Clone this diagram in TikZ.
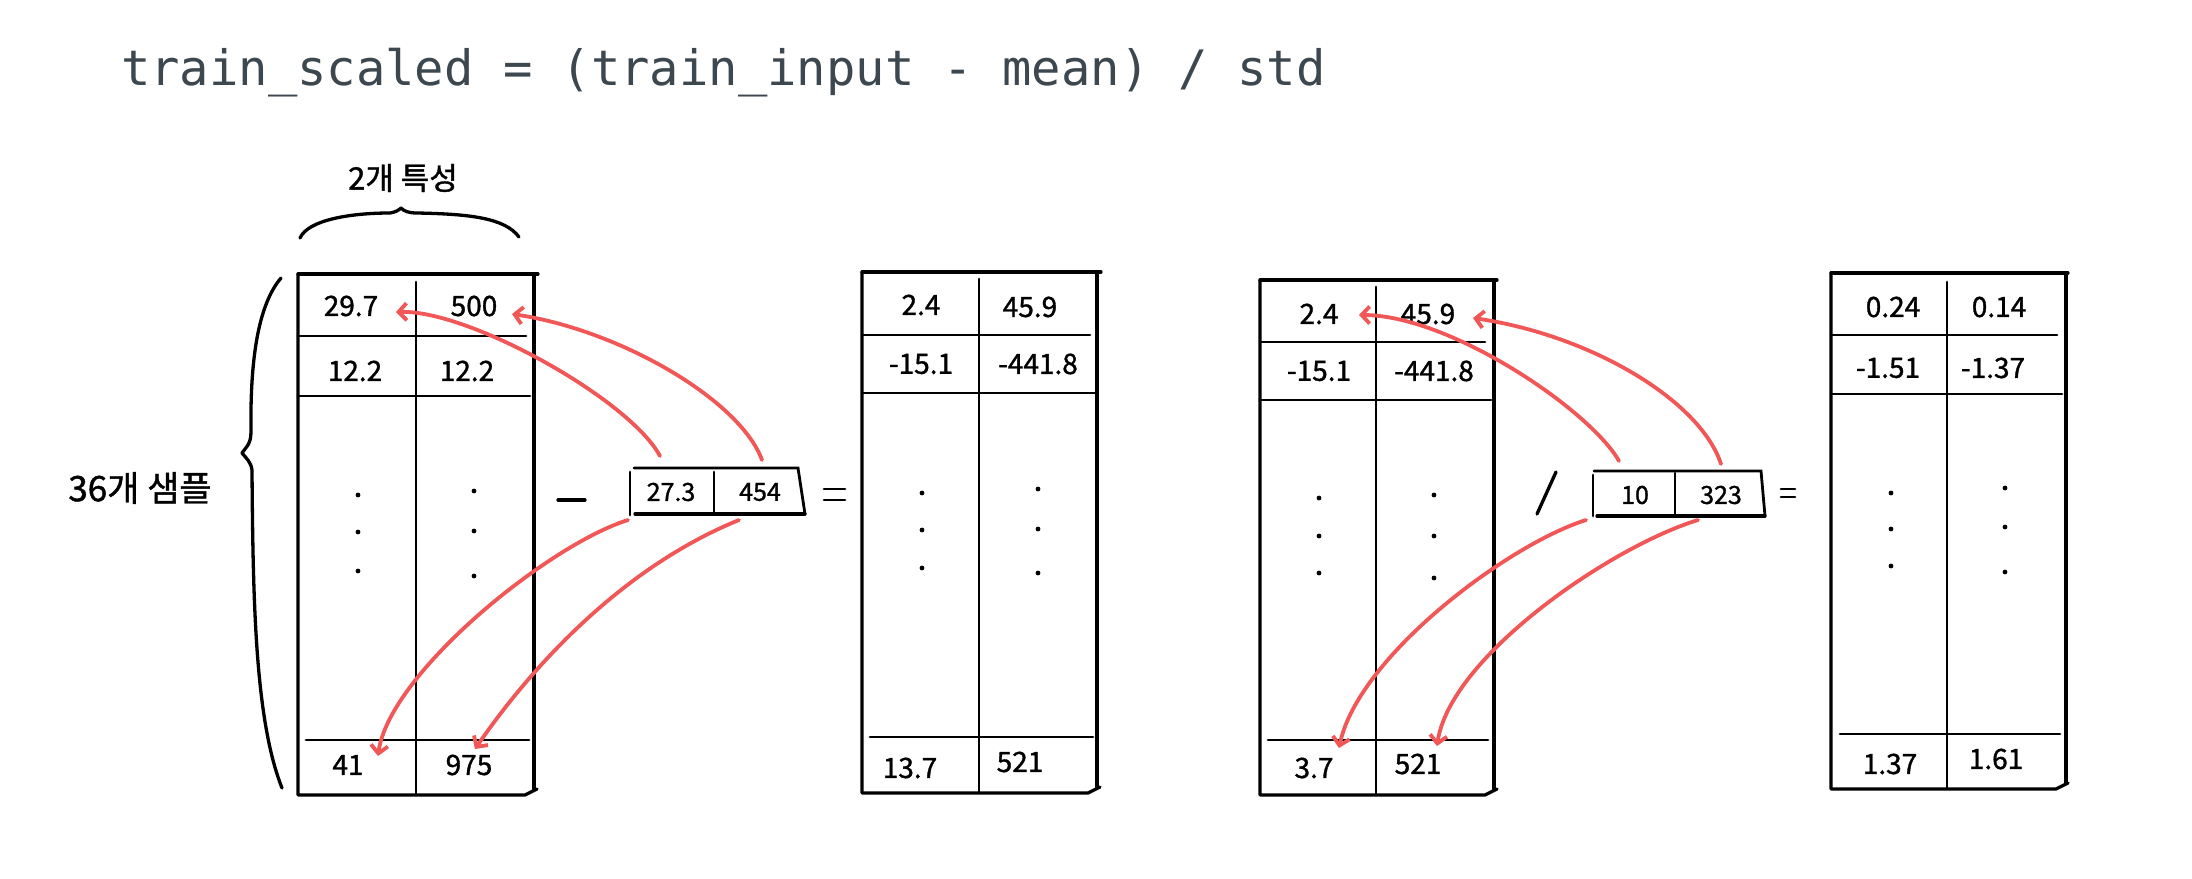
\documentclass[tikz,border=0pt]{standalone}
\usepackage{fontspec}
\newfontfamily\hand[FakeBold=1.2]{Noto Sans CJK KR}
\newfontfamily\codefont{DejaVu Sans Mono}
\usetikzlibrary{arrows.meta}
\definecolor{titlegray}{HTML}{3C474F}
\definecolor{penred}{HTML}{F25757}
\begin{document}
\begin{tikzpicture}[x=1pt,y=-1pt,
  pen/.style={line width=3.3pt, line cap=round, line join=round},
  inner/.style={line width=2.8pt, line cap=round},
  val/.style={font=\hand\fontsize{28}{30}\selectfont, inner sep=0pt},
  valsm/.style={font=\hand\fontsize{25}{27}\selectfont, inner sep=0pt},
  label/.style={font=\hand\fontsize{#1}{#1}\selectfont, inner sep=0pt},
  redarrow/.style={draw=penred, line width=3.8pt, line cap=round,
    -{Straight Barb[length=8pt,width=17pt,line width=3.8pt]}}]
\fill[white] (0,0) rectangle (2192,878);
\useasboundingbox (0,0) rectangle (2192,878);

% title
\node[anchor=base west, inner sep=0pt, text=titlegray,
  font=\codefont\fontsize{48.8}{50}\selectfont] (title) at (121,85)
  {train\_scaled = (train\_input - mean) / std};

% labels and braces
\node[label=31] (feat) at (403,178) {2개 특성};
\node[label=35] (samp) at (140,488) {36개 샘플};
\draw[pen] (300,238) .. controls (308,220) and (350,213) .. (390,213)
  .. controls (396,212) and (399,210) .. (401,208)
  .. controls (404,211) and (408,213) .. (417,213)
  .. controls (470,214) and (505,218) .. (519,237);
\draw[pen] (281,278) .. controls (258,305) and (250,360) .. (251,432)
  .. controls (251,445) and (245,448) .. (242,453)
  .. controls (246,458) and (251,462) .. (252,470)
  .. controls (253,600) and (255,720) .. (282,788);

% ---------- table 1 ----------
\draw[pen] (298,274) -- (538,274);
\draw[pen] (298,274) -- (298,795) -- (525,795) -- (537,789);
\draw[pen] (534,274) -- (534,789);
\draw[inner] (416,282) -- (416,795);
\draw[inner] (298,336) -- (526,336);
\draw[inner] (298,396) -- (530,396);
\draw[inner] (306,740) -- (529,740);
\node[val] (a11) at (351,306) {29.7};
\node[val] (a12) at (474,306) {500};
\node[val] (a21) at (355,371) {12.2};
\node[val] (a22) at (467,371) {12.2};
\node[val] (an1) at (348,765) {41};
\node[val] (an2) at (469,765) {975};
\foreach \x/\y in {358/495,358/532,358/571,474/491,474/531,474/576}
  \fill (\x,\y) circle (2.4pt);

% minus
\draw[pen] (558,500) -- (585,500);

% ---------- mean box ----------
\draw[inner] (630,472) -- (630,515);
\draw[inner] (634,468) -- (798,468) -- (805,514);
\draw[pen] (635,514) -- (805,514);
\draw[inner] (714,472) -- (714,514);
\node[valsm] (m1) at (671,492) {27.3};
\node[valsm] (m2) at (760,492) {454};

% equals
\draw[inner] (824,489) -- (845,489);
\draw[inner] (824,500) -- (845,500);

% ---------- table 2 ----------
\draw[pen] (862,272) -- (1101,272);
\draw[pen] (862,272) -- (862,793) -- (1088,793) -- (1100,787);
\draw[pen] (1097,272) -- (1097,787);
\draw[inner] (979,279) -- (979,793);
\draw[inner] (863,335) -- (1090,335);
\draw[inner] (863,393) -- (1095,393);
\draw[inner] (870,737) -- (1093,737);
\node[val] (b11) at (921,305) {2.4};
\node[val] (b12) at (1030,307) {45.9};
\node[val] (b21) at (921,364) {-15.1};
\node[val] (b22) at (1038,364) {-441.8};
\node[val] (bn1) at (910,768) {13.7};
\node[val] (bn2) at (1020,762) {521};
\foreach \x/\y in {922/493,922/530,922/568,1038/489,1038/529,1038/573}
  \fill (\x,\y) circle (2.4pt);

% ---------- table 3 ----------
\draw[pen] (1260,280) -- (1497,280);
\draw[pen] (1260,280) -- (1260,795) -- (1485,795) -- (1497,789);
\draw[pen] (1494,280) -- (1494,789);
\draw[inner] (1376,287) -- (1376,795);
\draw[inner] (1260,342) -- (1485,342);
\draw[inner] (1260,400) -- (1491,400);
\draw[inner] (1268,740) -- (1488,740);
\node[val] (c11) at (1319,314) {2.4};
\node[val] (c12) at (1428,314) {45.9};
\node[val] (c21) at (1319,371) {-15.1};
\node[val] (c22) at (1434,371) {-441.8};
\node[val] (cn1) at (1314,768) {3.7};
\node[val] (cn2) at (1418,764) {521};
\foreach \x/\y in {1319/498,1319/536,1319/573,1434/495,1434/536,1434/578}
  \fill (\x,\y) circle (2.4pt);

% slash
\draw[pen] (1537,514) -- (1556,472);

% ---------- std box ----------
\draw[inner] (1593,475) -- (1593,516);
\draw[inner] (1594,471) -- (1761,471) -- (1765,516);
\draw[pen] (1597,516) -- (1765,516);
\draw[inner] (1675,473) -- (1675,514);
\node[valsm] (s1) at (1635,495) {10};
\node[valsm] (s2) at (1721,495) {323};

% equals
\draw[inner] (1781,489) -- (1795,489);
\draw[inner] (1781,497) -- (1795,497);

% ---------- table 4 ----------
\draw[pen] (1831,273) -- (2068,273);
\draw[pen] (1831,273) -- (1831,789) -- (2056,789) -- (2068,783);
\draw[pen] (2066,273) -- (2066,783);
\draw[inner] (1947,282) -- (1947,789);
\draw[inner] (1831,335) -- (2057,335);
\draw[inner] (1831,394) -- (2062,394);
\draw[inner] (1840,734) -- (2060,734);
\node[val] (d11) at (1893,307) {0.24};
\node[val] (d12) at (1999,307) {0.14};
\node[val] (d21) at (1888,368) {-1.51};
\node[val] (d22) at (1993,368) {-1.37};
\node[val] (dn1) at (1890,764) {1.37};
\node[val] (dn2) at (1996,759) {1.61};
\foreach \x/\y in {1891/493,1891/529,1891/566,2005/488,2005/527,2005/572}
  \fill (\x,\y) circle (2.4pt);

% ---------- red arrows ----------
\coordinate (m1up) at (660,456);
\coordinate (m2up) at (762,460);
\coordinate (m1dn) at (628,520);
\coordinate (m2dn) at (739,520);
\coordinate (a11r) at (396,312);
\coordinate (a12r) at (512,314);
\coordinate (an1t) at (378,756);
\coordinate (an2t) at (475,749);
\draw[redarrow] (m1up) .. controls (630,400) and (470,310) .. (a11r);
\draw[redarrow] (m2up) .. controls (740,400) and (620,330) .. (a12r);
\draw[redarrow] (m1dn) .. controls (548,545) and (389,674) .. (an1t);
\draw[redarrow] (m2dn) .. controls (604,575) and (512,695) .. (an2t);

\coordinate (s1up) at (1619,461);
\coordinate (s2up) at (1721,464);
\coordinate (s1dn) at (1586,520);
\coordinate (s2dn) at (1698,520);
\coordinate (c11r) at (1359,315);
\coordinate (c12r) at (1473,318);
\coordinate (cn1t) at (1339,748);
\coordinate (cn2t) at (1437,746);
\draw[redarrow] (s1up) .. controls (1590,410) and (1450,315) .. (c11r);
\draw[redarrow] (s2up) .. controls (1700,400) and (1590,335) .. (c12r);
\draw[redarrow] (s1dn) .. controls (1507,545) and (1358,657) .. (cn1t);
\draw[redarrow] (s2dn) .. controls (1610,547) and (1450,657) .. (cn2t);
\end{tikzpicture}
\end{document}
